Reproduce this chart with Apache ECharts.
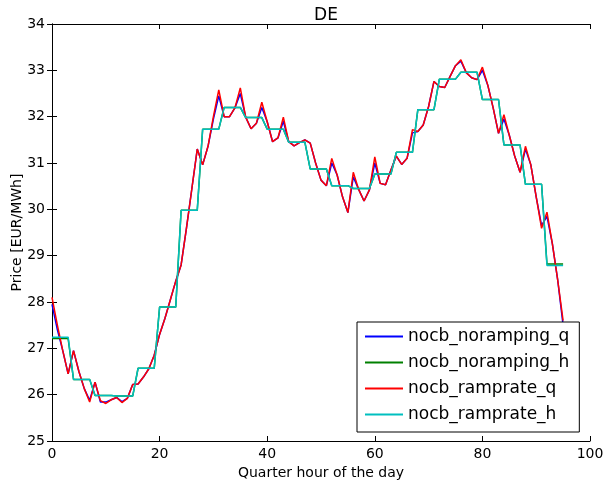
<!DOCTYPE html>
<html>
<head>
<meta charset="utf-8">
<script src="https://cdn.jsdelivr.net/npm/echarts@6/dist/echarts.min.js"></script>
<style>
html, body { margin: 0; padding: 0; background: #fff; }
#main { width: 603px; height: 487px; }
</style>
</head>
<body>
<div id="main"></div>
<script>
// quarter-hourly prices (index = quarter hour 0..95)
var noRampingQ = [
  27.95, 27.4, 26.95, 26.45, 26.95, 26.5, 26.13, 25.88, 26.27, 25.84,
  25.84, 25.89, 25.94, 25.85, 25.92, 26.22, 26.23, 26.38, 26.56, 26.85,
  27.3, 27.65, 28.05, 28.45, 28.8, 29.6, 30.45, 31.3, 30.96, 31.36,
  31.95, 32.45, 32.0, 32.0, 32.19, 32.5, 31.99, 31.74, 31.86, 32.2,
  31.89, 31.46, 31.54, 31.9, 31.46, 31.37, 31.44, 31.5, 31.43, 31.0,
  30.63, 30.51, 31.0, 30.74, 30.27, 29.93, 30.7, 30.43, 30.18, 30.42,
  31.0, 30.56, 30.53, 30.85, 31.15, 30.97, 31.1, 31.65, 31.68, 31.82,
  32.22, 32.76, 32.65, 32.63, 32.87, 33.1, 33.2, 32.95, 32.84, 32.8,
  33.0, 32.68, 32.19, 31.64, 31.95, 31.6, 31.15, 30.8, 31.3, 30.96,
  30.27, 29.65, 29.85, 29.26, 28.47, 27.5
];
var rampRateQ = [
  28.1, 27.5, 26.95, 26.45, 26.95, 26.5, 26.13, 25.84, 26.27, 25.87,
  25.81, 25.89, 25.94, 25.83, 25.92, 26.22, 26.23, 26.38, 26.56, 26.85,
  27.3, 27.65, 28.05, 28.45, 28.8, 29.6, 30.45, 31.3, 30.96, 31.36,
  32.0, 32.58, 32.0, 32.0, 32.19, 32.62, 31.99, 31.74, 31.86, 32.31,
  31.89, 31.46, 31.54, 31.99, 31.46, 31.37, 31.44, 31.5, 31.43, 31.0,
  30.63, 30.51, 31.1, 30.74, 30.27, 29.93, 30.8, 30.43, 30.18, 30.42,
  31.13, 30.56, 30.53, 30.85, 31.15, 30.97, 31.1, 31.72, 31.68, 31.82,
  32.22, 32.76, 32.65, 32.63, 32.87, 33.1, 33.23, 32.95, 32.84, 32.8,
  33.07, 32.68, 32.19, 31.64, 32.04, 31.6, 31.15, 30.8, 31.36, 30.96,
  30.27, 29.59, 29.94, 29.26, 28.47, 27.6
];
// hourly prices (index = hour 0..23), shown on every quarter of the hour
var noRampingH = [
  27.21, 26.33, 25.98, 25.97, 26.57, 27.89, 29.98, 31.73, 32.2, 31.98,
  31.73, 31.45, 30.87, 30.51, 30.45, 30.76, 31.23, 32.15, 32.81, 32.96,
  32.37, 31.39, 30.54, 28.82
];
var rampRateH = [
  27.24, 26.33, 25.98, 25.97, 26.57, 27.89, 29.98, 31.73, 32.2, 31.98,
  31.73, 31.45, 30.87, 30.51, 30.45, 30.76, 31.23, 32.15, 32.81, 32.96,
  32.37, 31.39, 30.54, 28.79
];
var seriesNames = ['nocb_noramping_q', 'nocb_noramping_h', 'nocb_ramprate_q', 'nocb_ramprate_h'];
var seriesColors = ['#0000ff', '#008000', '#ff0000', '#00bfbf'];

function byQuarter(values) {
  return values.map(function (v, i) { return [i, v]; });
}
function byHour(values) {
  var out = [];
  values.forEach(function (v, h) {
    for (var k = 0; k < 4; k++) out.push([h * 4 + k, v]);
  });
  return out;
}

var font = 'DejaVu Sans';
var chart = echarts.init(document.getElementById('main'));
var tickStyle = { inside: true, length: 5, lineStyle: { color: '#000', width: 1 } };

function lineSeries(i, data) {
  return {
    name: seriesNames[i],
    type: 'line',
    data: data,
    symbol: 'none',
    color: seriesColors[i],
    lineStyle: { width: 1.5, color: seriesColors[i] },
    z: 2 + i
  };
}

chart.setOption({
  animation: false,
  backgroundColor: '#fff',
  textStyle: { fontFamily: font },
  title: {
    text: 'DE',
    left: 321,
    textAlign: 'center',
    top: 2,
    textStyle: { fontFamily: font, fontSize: 17, fontWeight: 'normal', color: '#000' }
  },
  grid: { left: 52, top: 24, right: 13, bottom: 46, containLabel: false, outerBoundsMode: 'none' },
  legend: {
    orient: 'vertical',
    left: 357,
    top: 322,
    icon: 'rect',
    itemWidth: 38,
    itemHeight: 2,
    itemGap: 9,
    padding: [6, 10, 9, 8],
    backgroundColor: '#fff',
    borderColor: '#000',
    borderWidth: 1,
    borderRadius: 0,
    data: seriesNames,
    textStyle: { fontFamily: font, fontSize: 17, color: '#000' }
  },
  xAxis: [{
    type: 'value',
    min: 0, max: 100, interval: 20,
    name: 'Quarter hour of the day',
    nameLocation: 'middle',
    nameGap: 24,
    nameTextStyle: { fontFamily: font, fontSize: 14, color: '#000' },
    axisLine: { lineStyle: { color: '#000', width: 1 } },
    axisTick: tickStyle,
    axisLabel: { fontFamily: font, fontSize: 14, color: '#000', margin: 6 },
    splitLine: { show: false }
  }, {
    type: 'value', position: 'top',
    min: 0, max: 100, interval: 20,
    axisLine: { lineStyle: { color: '#000', width: 1 } },
    axisTick: tickStyle,
    axisLabel: { show: false },
    splitLine: { show: false }
  }],
  yAxis: [{
    type: 'value',
    min: 25, max: 34, interval: 1,
    name: 'Price [EUR/MWh]',
    nameLocation: 'middle',
    nameGap: 28,
    nameMoveOverlap: false,
    nameTextStyle: { fontFamily: font, fontSize: 14, color: '#000' },
    axisLine: { show: true, lineStyle: { color: '#000', width: 1 } },
    axisTick: tickStyle,
    axisLabel: { fontFamily: font, fontSize: 14, color: '#000', margin: 7 },
    splitLine: { show: false }
  }, {
    type: 'value', position: 'right',
    min: 25, max: 34, interval: 1,
    axisLine: { show: true, lineStyle: { color: '#000', width: 1 } },
    axisTick: tickStyle,
    axisLabel: { show: false },
    splitLine: { show: false }
  }],
  series: [
    lineSeries(0, byQuarter(noRampingQ)),
    lineSeries(1, byHour(noRampingH)),
    lineSeries(2, byQuarter(rampRateQ)),
    lineSeries(3, byHour(rampRateH))
  ]
});
</script>
</body>
</html>
